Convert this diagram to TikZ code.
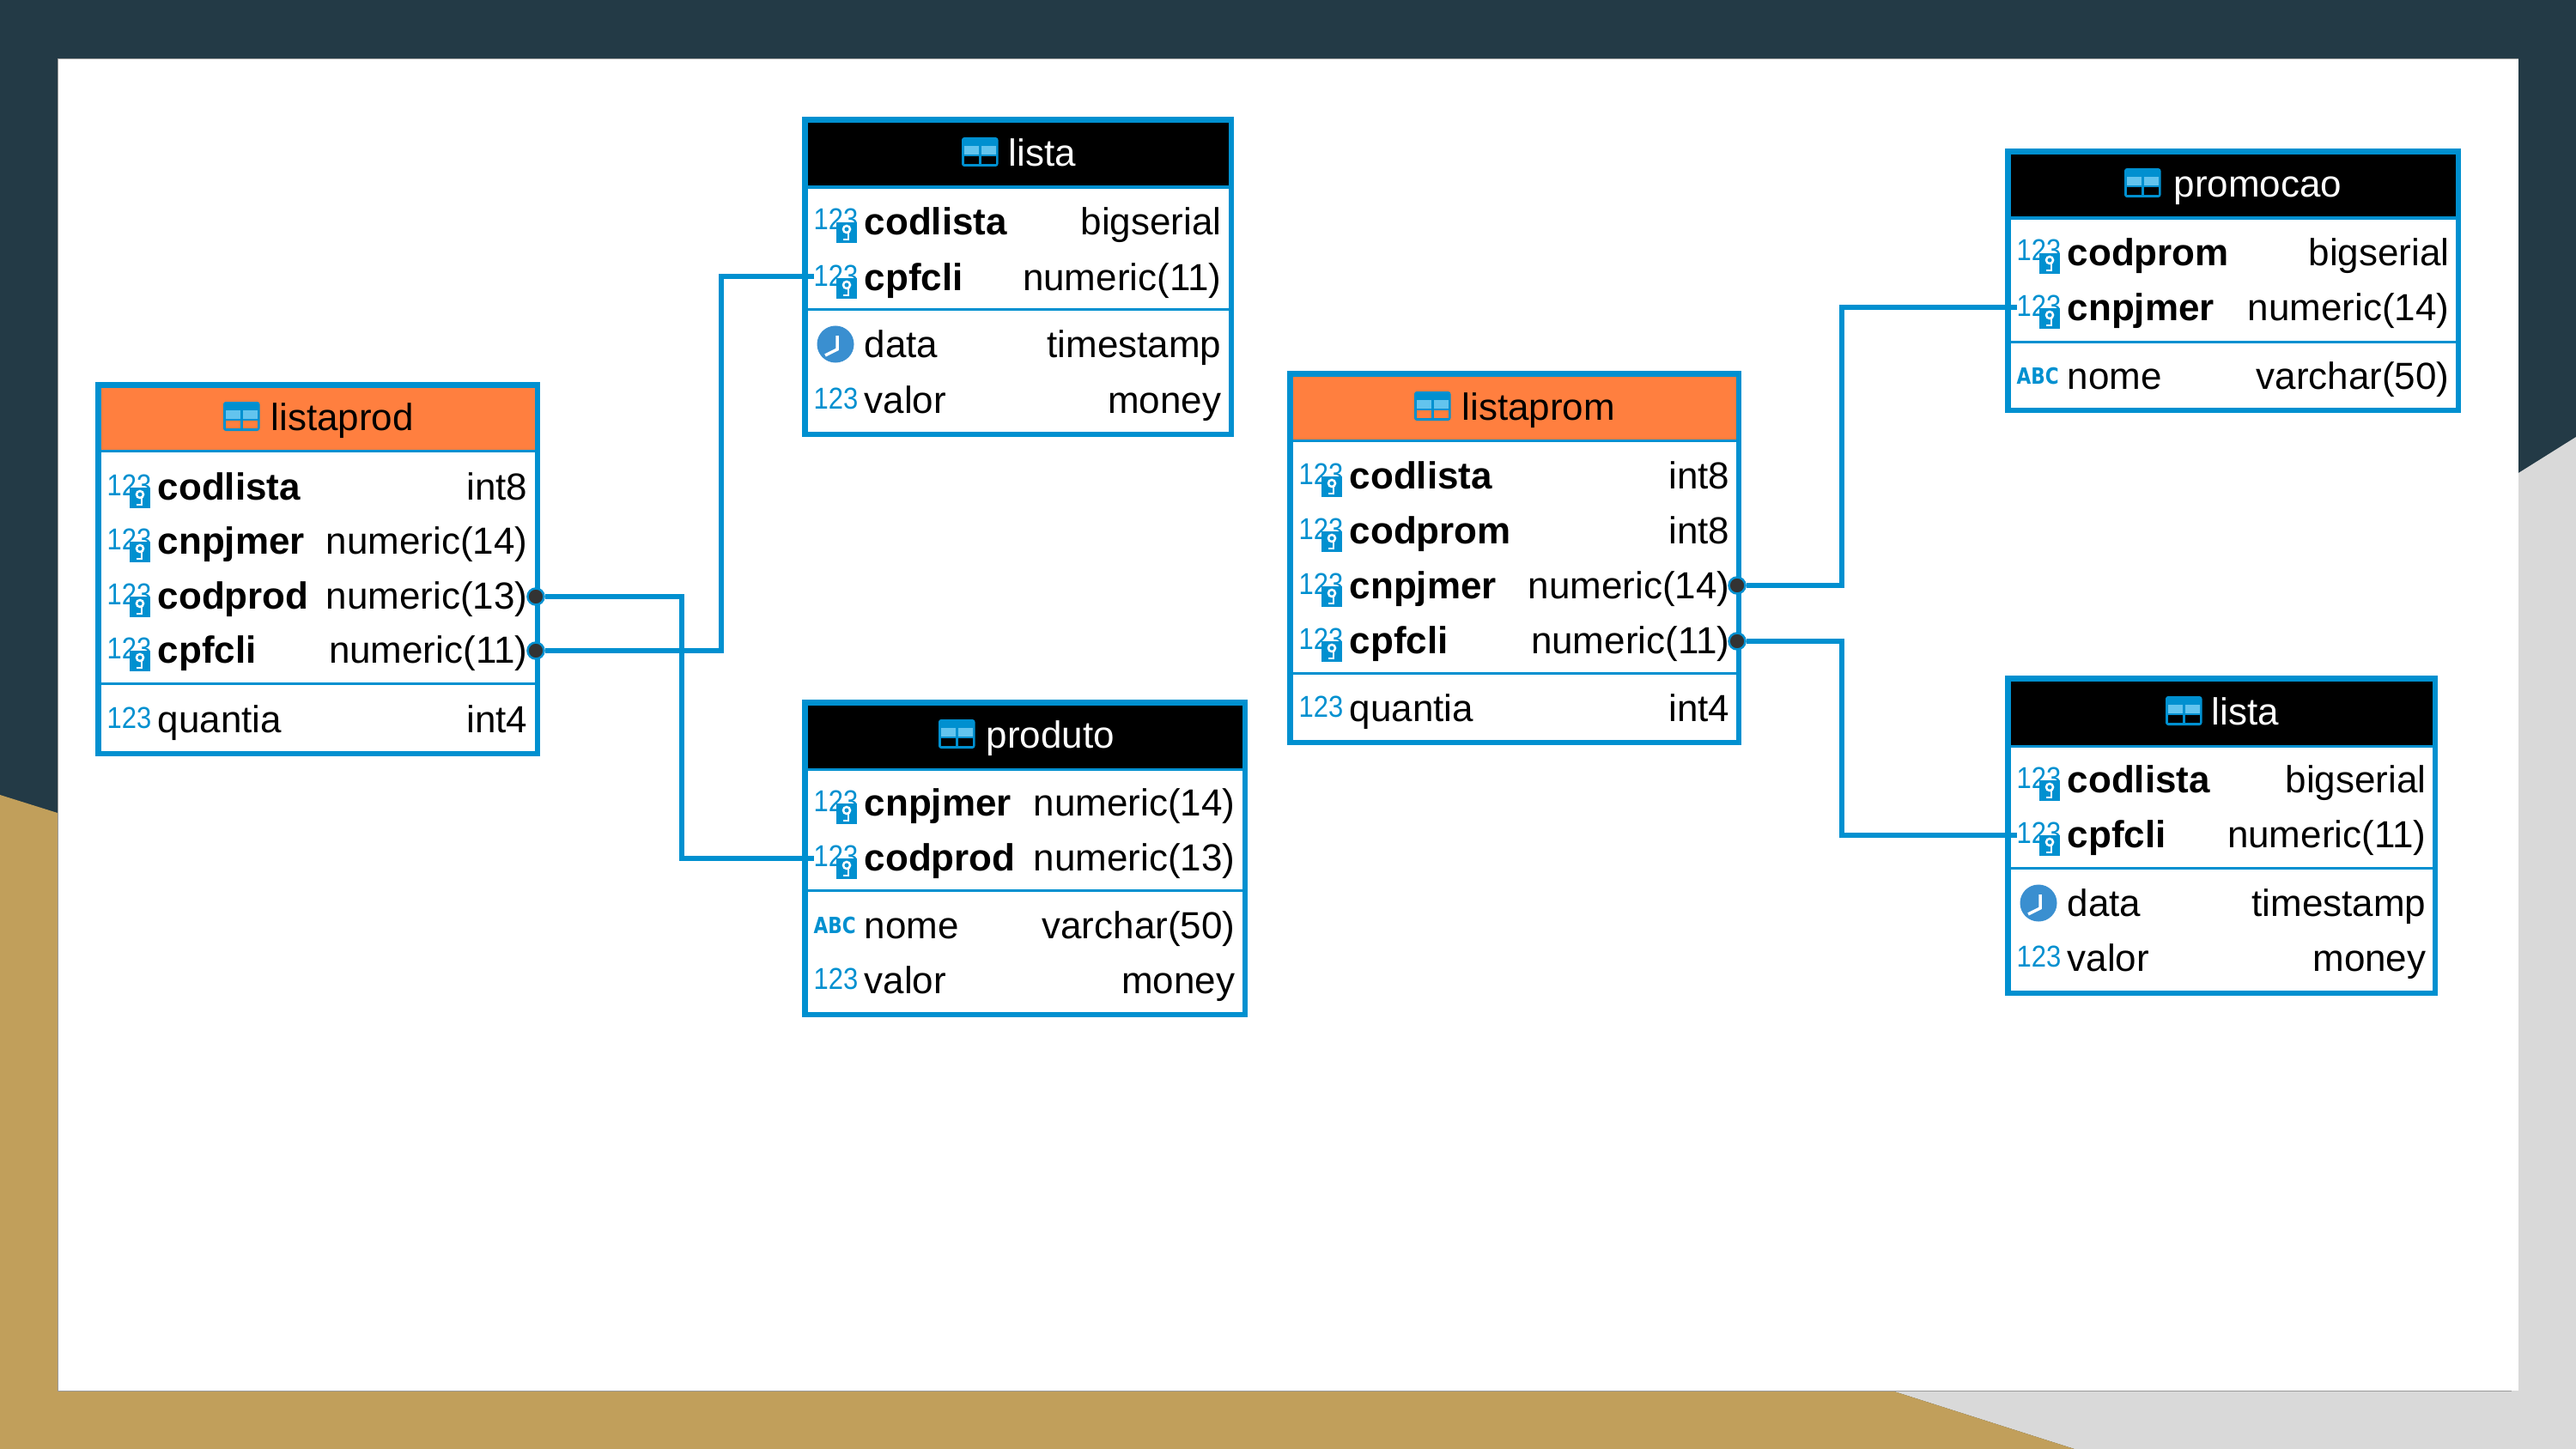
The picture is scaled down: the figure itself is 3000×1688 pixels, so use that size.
\documentclass[tikz,border=0pt]{standalone}
\usepackage{fontspec}
\setmainfont{Liberation Sans}
\newfontfamily\iconfont{DejaVu Sans}
\definecolor{linkblue}{RGB}{0,144,208}
\definecolor{celllight}{RGB}{99,196,238}
\definecolor{clockblue}{RGB}{58,143,208}
\definecolor{hdrorange}{RGB}{255,127,63}
\definecolor{bgdark}{RGB}{35,58,70}
\definecolor{bgtan}{RGB}{193,159,91}
\definecolor{bggrey}{RGB}{217,217,217}
\tikzset{
  tblbox/.style={draw=linkblue,line width=.065cm,inner sep=0,outer sep=0,anchor=north west},
  tblline/.style={draw=linkblue,line width=.03cm},
  link/.style={draw=linkblue,line width=.055cm},
  keydot/.style={circle,draw=linkblue,fill=black!80,line width=.025cm,inner sep=0,minimum size=.19cm},
  hdrtext/.style={anchor=base west,inner sep=0,font=\fontsize{12.5pt}{15pt}\selectfont},
  colname/.style={anchor=base west,inner sep=0,font=\fontsize{12.5pt}{15pt}\selectfont},
  keyname/.style={colname,font=\fontsize{12.5pt}{15pt}\selectfont\bfseries},
  coltype/.style={anchor=base east,inner sep=0,font=\fontsize{12.5pt}{15pt}\selectfont},
  numicon/.style={anchor=base west,inner sep=0,text=linkblue,font=\fontsize{10pt}{12pt}\selectfont},
  abcicon/.style={anchor=base west,inner sep=0,text=linkblue,font=\fontsize{7.4pt}{9pt}\iconfont\bfseries},
}
% header glyph: left edge, baseline, colour behind the lower cells
\newcommand{\tblicon}[3]{
  \fill[linkblue,rounded corners=.03cm] (#1,#2-33) rectangle (#1+42.5,#2+1);
  \fill[celllight] (#1+3,#2-23) rectangle (#1+20,#2-13);
  \fill[celllight] (#1+23,#2-23) rectangle (#1+40,#2-13);
  \fill[#3] (#1+3,#2-11) rectangle (#1+20,#2-2);
  \fill[#3] (#1+23,#2-11) rectangle (#1+40,#2-2);
}
% rows: id, left of table, right text edge, baseline, field, type
\newcommand{\keyrow}[6]{
  \node[numicon] (#1icon) at (#2+13,#4-5) {\scalebox{.88}[1]{123}};
  \fill[linkblue] (#2+40,#4-14) rectangle (#2+64,#4+10);
  \draw[white,line width=.025cm] (#2+52,#4-6) circle (.04cm);
  \draw[white,line width=.028cm] (#2+54,#4-4) -- (#2+54,#4+6) -- (#2+48,#4+6);
  \node[keyname] (#1name) at (#2+72,#4) {#5};
  \node[coltype] (#1type) at (#3+2,#4) {#6};
}
\newcommand{\numrow}[6]{
  \node[numicon] (#1icon) at (#2+13,#4-5) {\scalebox{.88}[1]{123}};
  \node[colname] (#1name) at (#2+72,#4) {#5};
  \node[coltype] (#1type) at (#3+2,#4) {#6};
}
\newcommand{\abcrow}[6]{
  \node[abcicon] (#1icon) at (#2+13,#4-6) {\scalebox{.83}[1]{ABC}};
  \node[colname] (#1name) at (#2+72,#4) {#5};
  \node[coltype] (#1type) at (#3+2,#4) {#6};
}
\newcommand{\timerow}[6]{
  \fill[clockblue] (#2+39,#4-15) circle (.215cm);
  \draw[white,line width=.035cm] (#2+41,#4-25) -- (#2+41,#4-9) -- (#2+27,#4-2);
  \node[colname] (#1name) at (#2+72,#4) {#5};
  \node[coltype] (#1type) at (#3+2,#4) {#6};
}
\begin{document}
\begin{tikzpicture}[x=.01cm,y=-.01cm]
\useasboundingbox (0,0) rectangle (3000,1688);
% backdrop
\fill[bgdark] (0,0) rectangle (3000,1688);
\fill[bggrey] (3000,509) -- (2933,551) -- (2203,1620) -- (2416,1688) -- (3000,1688) -- cycle;
\fill[bgtan] (0,926) -- (67,947) -- (67,1620) -- (2203,1620) -- (2416,1688) -- (0,1688) -- cycle;
\fill[white] (67,69) rectangle (2933,1620);
\draw[black!40,line width=.01cm] (2933,69) -- (67,69) -- (67,1620) -- (2925,1620);

% listaprod
\fill[hdrorange] (111,445) rectangle (629,525);
\node[tblbox,minimum width=5.115cm,minimum height=4.295cm] (listaprod) at (114.25,448.25) {};
\draw[tblline] (111,525) -- (629,525);
\draw[tblline] (111,796) -- (629,796);
\tblicon{260}{501}{hdrorange}
\node[hdrtext] (listaprodtitle) at (315,501) {listaprod};
\keyrow{lpcodlista}{111}{613}{582}{codlista}{int8}
\keyrow{lpcnpjmer}{111}{613}{645}{cnpjmer}{numeric(14)}
\keyrow{lpcodprod}{111}{613}{709}{codprod}{numeric(13)}
\keyrow{lpcpfcli}{111}{613}{772}{cpfcli}{numeric(11)}
\numrow{lpquantia}{111}{613}{853}{quantia}{int4}

% lista (top)
\fill[black] (934,136) rectangle (1437,218);
\node[tblbox,minimum width=4.965cm,minimum height=3.665cm] (listatop) at (937.25,139.25) {};
\draw[tblline] (934,218) -- (1437,218);
\draw[tblline] (934,360) -- (1437,360);
\tblicon{1120}{193}{black}
\node[hdrtext,text=white] (listatoptitle) at (1174,193) {lista};
\keyrow{ltcodlista}{934}{1421}{273}{codlista}{bigserial}
\keyrow{ltcpfcli}{934}{1421}{338}{cpfcli}{numeric(11)}
\timerow{ltdata}{934}{1421}{416}{data}{timestamp}
\numrow{ltvalor}{934}{1421}{481}{valor}{money}

% produto
\fill[black] (934,815) rectangle (1453,896);
\node[tblbox,minimum width=5.125cm,minimum height=3.635cm] (produto) at (937.25,818.25) {};
\draw[tblline] (934,896) -- (1453,896);
\draw[tblline] (934,1037) -- (1453,1037);
\tblicon{1093}{871}{black}
\node[hdrtext,text=white] (produtotitle) at (1148,871) {produto};
\keyrow{pdcnpjmer}{934}{1437}{950}{cnpjmer}{numeric(14)}
\keyrow{pdcodprod}{934}{1437}{1014}{codprod}{numeric(13)}
\abcrow{pdnome}{934}{1437}{1093}{nome}{varchar(50)}
\numrow{pdvalor}{934}{1437}{1157}{valor}{money}

% listaprom
\fill[hdrorange] (1499,432) rectangle (2028,513);
\node[tblbox,minimum width=5.225cm,minimum height=4.295cm] (listaprom) at (1502.25,435.25) {};
\draw[tblline] (1499,513) -- (2028,513);
\draw[tblline] (1499,784) -- (2028,784);
\tblicon{1647}{489}{hdrorange}
\node[hdrtext] (listapromtitle) at (1702,489) {listaprom};
\keyrow{lmcodlista}{1499}{2013}{569}{codlista}{int8}
\keyrow{lmcodprom}{1499}{2013}{633}{codprom}{int8}
\keyrow{lmcnpjmer}{1499}{2013}{697}{cnpjmer}{numeric(14)}
\keyrow{lmcpfcli}{1499}{2013}{761}{cpfcli}{numeric(11)}
\numrow{lmquantia}{1499}{2013}{840}{quantia}{int4}

% promocao
\fill[black] (2335,173) rectangle (2866,254);
\node[tblbox,minimum width=5.245cm,minimum height=3.015cm] (promocao) at (2338.25,176.25) {};
\draw[tblline] (2335,254) -- (2866,254);
\draw[tblline] (2335,398) -- (2866,398);
\tblicon{2474}{229}{black}
\node[hdrtext,text=white] (promocaotitle) at (2531,229) {promocao};
\keyrow{pmcodprom}{2335}{2851}{309}{codprom}{bigserial}
\keyrow{pmcnpjmer}{2335}{2851}{373}{cnpjmer}{numeric(14)}
\abcrow{pmnome}{2335}{2851}{453}{nome}{varchar(50)}

% lista (right)
\fill[black] (2335,787) rectangle (2839,869);
\node[tblbox,minimum width=4.975cm,minimum height=3.665cm] (listaright) at (2338.25,790.25) {};
\draw[tblline] (2335,869) -- (2839,869);
\draw[tblline] (2335,1011) -- (2839,1011);
\tblicon{2522}{844}{black}
\node[hdrtext,text=white] (listarighttitle) at (2575,844) {lista};
\keyrow{lrcodlista}{2335}{2824}{923}{codlista}{bigserial}
\keyrow{lrcpfcli}{2335}{2824}{987}{cpfcli}{numeric(11)}
\timerow{lrdata}{2335}{2824}{1067}{data}{timestamp}
\numrow{lrvalor}{2335}{2824}{1131}{valor}{money}

% links
\node[keydot] (lpcodproddot) at (624,695) {};
\node[keydot] (lpcpfclidot) at (624,758) {};
\node[keydot] (lmcnpjmerdot) at (2023,682) {};
\node[keydot] (lmcpfclidot) at (2023,747) {};
\coordinate (ltcpfcliend) at (948,322);
\coordinate (pdcodprodend) at (948,1000);
\coordinate (pmcnpjmerend) at (2349,358);
\coordinate (lrcpfcliend) at (2349,973);
\coordinate (bendprod) at (794,695);
\coordinate (bendlista) at (840,758);
\coordinate (bendprom) at (2145,682);
\coordinate (bendright) at (2145,747);
\draw[link] (lpcodproddot) -- (bendprod) |- (pdcodprodend);
\draw[link] (lpcpfclidot) -- (bendlista) |- (ltcpfcliend);
\draw[link] (lmcnpjmerdot) -- (bendprom) |- (pmcnpjmerend);
\draw[link] (lmcpfclidot) -- (bendright) |- (lrcpfcliend);
\end{tikzpicture}
\end{document}
